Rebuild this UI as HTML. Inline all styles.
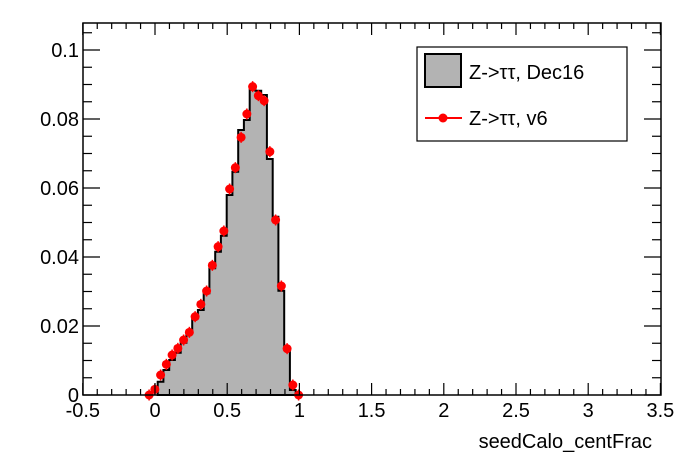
<!DOCTYPE html>
<html><head><meta charset="utf-8"><style>
html,body{margin:0;padding:0;background:#fff;}
svg{display:block;font-family:"Liberation Sans",Arial,sans-serif;}
</style></head><body>
<svg id="s" width="696" height="472" viewBox="0 0 696 472" xmlns="http://www.w3.org/2000/svg">
<rect width="696" height="472" fill="#fff"/>
<g id="hist"></g>
<g id="pts"></g>
<rect x="83" y="23" width="578" height="372" fill="none" stroke="#000" stroke-width="1.5"/>
<g id="ticks" stroke="#000" stroke-width="1.2"></g>
<g id="labels" font-size="20" fill="#000"></g>
<text x="652" y="448" font-size="20" text-anchor="end">seedCalo_centFrac</text>
<rect x="417" y="47" width="210" height="94" fill="#fff" stroke="#000" stroke-width="1.2"/>
<rect x="425" y="54" width="36" height="33" fill="#b3b3b3" stroke="#000" stroke-width="2"/>
<text x="469" y="79" font-size="20">Z-&gt;ττ, Dec16</text>
<line x1="425" y1="118" x2="462" y2="118" stroke="#f00" stroke-width="2"/>
<circle cx="443" cy="118" r="4.5" fill="#f00"/>
<text x="469" y="125" font-size="20">Z-&gt;ττ, v6</text>
</svg>
<script>
var NS="http://www.w3.org/2000/svg";
function el(p,t,a,txt){var e=document.createElementNS(NS,t);for(var k in a)e.setAttribute(k,a[k]);if(txt!==undefined)e.textContent=txt;document.getElementById(p).appendChild(e);return e;}
var X=function(v){return 155+v*144.4;};
var Y=function(v){return 395-v*3450;};
var pz=[948,928,885,853,825,805,780,757,710,673,633,556,500,453,327,263,172,102,20,47,62,215,420,618,806,915,950];
var hz=[905,870,840,818,788,757,715,690,640,565,515,467,345,275,150,120,30,32,45,237,410,632,808,930];
var d="M157.7 395";
for(var j=0;j<hz.length;j++){var x0=157.7+5.75*j,y=80+hz[j]/3;d+=" L"+x0.toFixed(1)+" "+y.toFixed(1)+" L"+(x0+5.75).toFixed(1)+" "+y.toFixed(1);}
d+=" L"+(157.7+5.75*hz.length).toFixed(1)+" 395 Z";
el("hist","path",{d:d,fill:"#b3b3b3",stroke:"#000","stroke-width":2});
for(var k=0;k<pz.length;k++){var x=149.1+5.75*k,y=Math.min(80+pz[k]/3,395);
el("pts","line",{x1:x,y1:y-5.5,x2:x,y2:y+5.5,stroke:"#f00","stroke-width":1.5});
el("pts","circle",{cx:x,cy:y,r:4.5,fill:"#f00"});}
for(var i=0;i<=40;i++){var v=-0.5+i*0.1,x=X(v),maj=(i%5==0),L=maj?12:6;
el("ticks","line",{x1:x,y1:395,x2:x,y2:395-L});el("ticks","line",{x1:x,y1:23,x2:x,y2:23+L});
if(maj){var s=(Math.round(v*10)/10).toString();el("labels","text",{x:x,y:417,"text-anchor":"middle"},s);}}
for(var i=0;i<=21;i++){var v=i*0.005,y=Y(v),maj=(i%4==0),L=maj?17:9;if(y<23)continue;
el("ticks","line",{x1:83,y1:y,x2:83+L,y2:y});el("ticks","line",{x1:661,y1:y,x2:661-L,y2:y});
if(maj){var s=(Math.round(v*100)/100).toString();el("labels","text",{x:79,y:y+7,"text-anchor":"end"},s);}}
</script>
</body></html>
